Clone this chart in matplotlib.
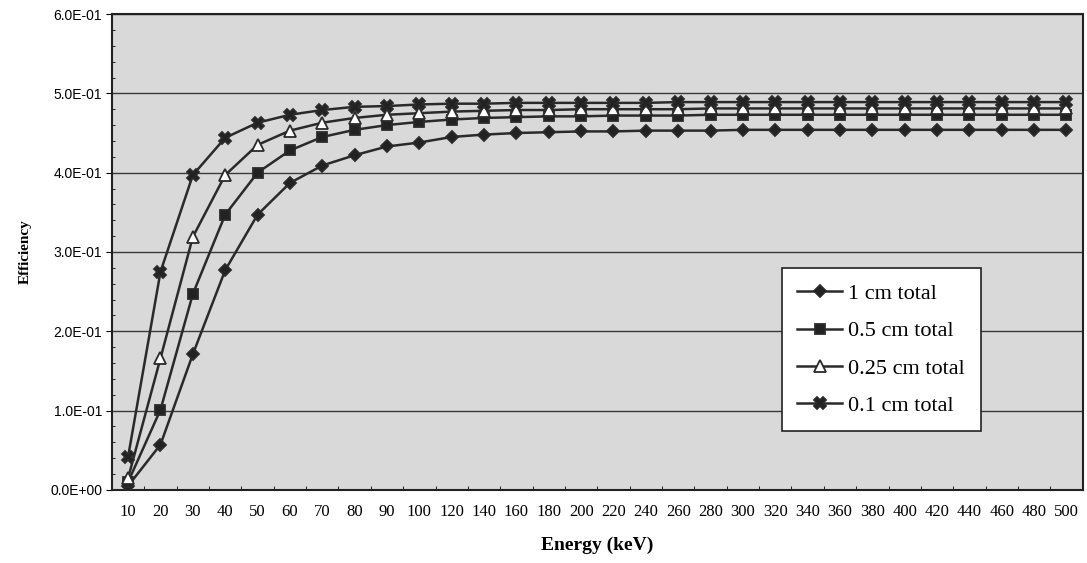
import numpy as np
import matplotlib
matplotlib.use("Agg")
import matplotlib.pyplot as plt
from matplotlib.ticker import FixedLocator, MultipleLocator

# categories (keV) and efficiency values
energy = [10, 20, 30, 40, 50, 60, 70, 80, 90, 100,
          120, 140, 160, 180, 200, 220, 240, 260, 280, 300,
          320, 340, 360, 380, 400, 420, 440, 460, 480, 500]

eff_1cm = [0.005, 0.057, 0.171, 0.277, 0.347, 0.387, 0.409, 0.422, 0.433, 0.438,
           0.445, 0.448, 0.450, 0.451, 0.452, 0.452, 0.453, 0.453, 0.453, 0.454,
           0.454, 0.454, 0.454, 0.454, 0.454, 0.454, 0.454, 0.454, 0.454, 0.454]
eff_05cm = [0.010, 0.101, 0.247, 0.347, 0.400, 0.428, 0.445, 0.454, 0.460, 0.464,
            0.467, 0.469, 0.470, 0.471, 0.471, 0.472, 0.472, 0.472, 0.473, 0.473,
            0.473, 0.473, 0.473, 0.473, 0.473, 0.473, 0.473, 0.473, 0.473, 0.473]
eff_025cm = [0.015, 0.166, 0.319, 0.397, 0.435, 0.453, 0.463, 0.469, 0.473, 0.475,
             0.477, 0.478, 0.479, 0.479, 0.480, 0.480, 0.480, 0.480, 0.481, 0.481,
             0.481, 0.481, 0.481, 0.481, 0.481, 0.481, 0.481, 0.481, 0.481, 0.481]
eff_01cm = [0.042, 0.275, 0.397, 0.444, 0.463, 0.473, 0.479, 0.483, 0.484, 0.486,
            0.487, 0.487, 0.488, 0.488, 0.488, 0.488, 0.488, 0.489, 0.489, 0.489,
            0.489, 0.489, 0.489, 0.489, 0.489, 0.489, 0.489, 0.489, 0.489, 0.489]

y_ticks = [0.0, 0.1, 0.2, 0.3, 0.4, 0.5, 0.6]
y_labels = ["0.0E+00", "1.0E-01", "2.0E-01", "3.0E-01", "4.0E-01", "5.0E-01", "6.0E-01"]

series = [
    ("1 cm total", eff_1cm, dict(marker="D", ms=6, mfc="#222222")),
    ("0.5 cm total", eff_05cm, dict(marker="s", ms=7, mfc="#222222")),
    ("0.25 cm total", eff_025cm, dict(marker="^", ms=8, mfc="white")),
    ("0.1 cm total", eff_01cm, dict(marker="X", ms=8, mfc="#222222")),
]

serif = ["Liberation Serif", "DejaVu Serif"]
sans = ["Liberation Sans", "DejaVu Sans"]

fig = plt.figure(figsize=(10.87, 5.63), dpi=100)
ax = fig.add_axes([0.103, 0.130, 0.893, 0.845])
ax.set_facecolor("#d9d9d9")

x = np.arange(len(energy))
for label, vals, st in series:
    ax.plot(x, vals, color="#2a2a2a", lw=1.8, mec="#2a2a2a", mew=1.3,
            label=label, zorder=3, **st)

ax.set_xlim(-0.5, len(energy) - 0.5)
ax.set_ylim(0, 0.6)
ax.set_yticks(y_ticks)
ax.set_yticklabels(y_labels, family=sans, fontsize=10)
ax.yaxis.set_minor_locator(MultipleLocator(0.02))
ax.set_xticks(x)
ax.set_xticklabels([str(e) for e in energy], family=serif, fontsize=12)
ax.xaxis.set_minor_locator(FixedLocator(x[:-1] + 0.5))
ax.tick_params(axis="x", which="major", length=0, pad=10)
ax.tick_params(axis="x", which="minor", length=3, direction="in")
ax.tick_params(axis="y", which="major", length=4, direction="out", pad=3)
ax.tick_params(axis="y", which="minor", length=2, direction="in")

ax.grid(axis="y", which="major", color="#3a3a3a", lw=1.0)
for s in ax.spines.values():
    s.set_color("#222222")
    s.set_linewidth(1.5)

ax.set_xlabel("Energy (keV)", family=serif, fontsize=14, fontweight="bold", labelpad=12)
ax.set_ylabel("Efficiency", family=serif, fontsize=11, fontweight="bold", labelpad=13)

leg = ax.legend(loc="upper left", bbox_to_anchor=(0.69, 0.466), borderaxespad=0,
                prop={"family": serif, "size": 16},
                frameon=True, fancybox=False, edgecolor="#222222", facecolor="white",
                framealpha=1, handlelength=2.0, handletextpad=0.3, borderpad=0.7,
                labelspacing=0.75)
leg.get_frame().set_linewidth(1.2)

fig.savefig("out.png", dpi=100)
